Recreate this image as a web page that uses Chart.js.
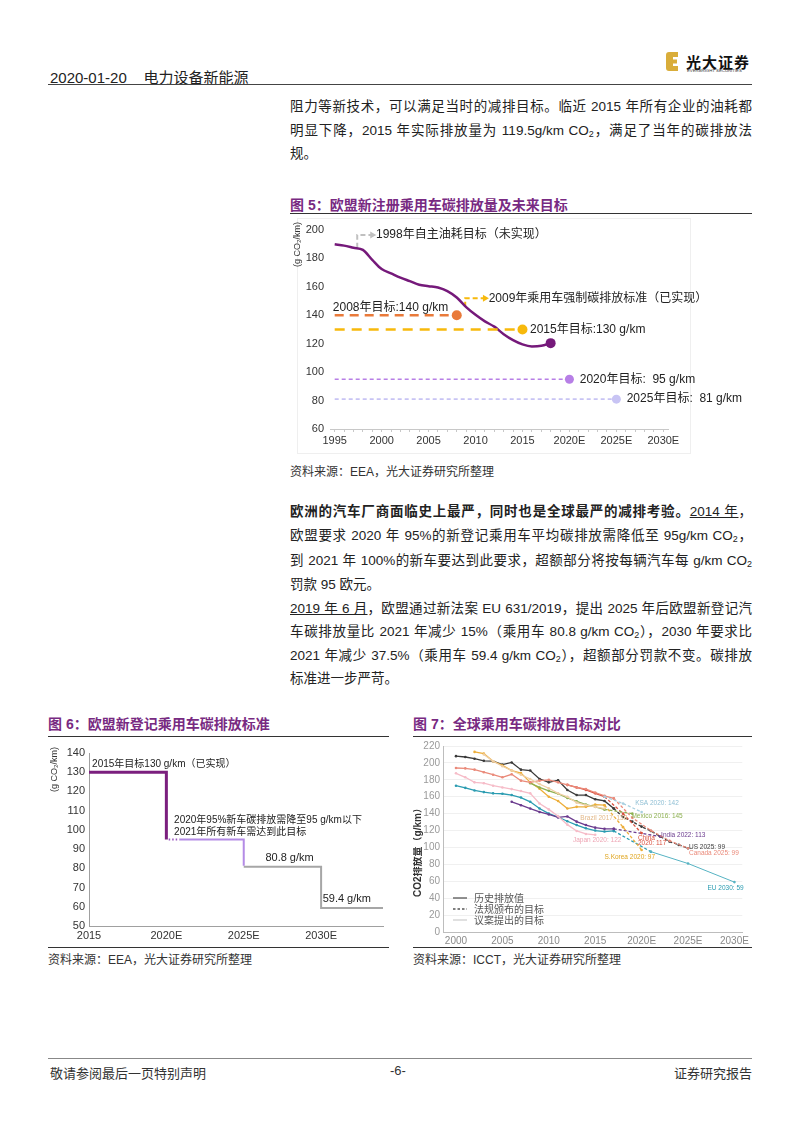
<!DOCTYPE html>
<html lang="zh-CN">
<head>
<meta charset="utf-8">
<title>电力设备新能源 - 欧盟乘用车碳排放</title>
<script src="https://cdn.jsdelivr.net/npm/chart.js@4.4.1/dist/chart.umd.min.js"></script>
<style>
  html, body { margin: 0; padding: 0; background: #fff; }
  body {
    width: 802px; height: 1133px; position: relative; overflow: hidden;
    font-family: "Liberation Sans", "Noto Sans CJK SC", sans-serif; color: #222;
  }
  .abs { position: absolute; white-space: nowrap; }
  .rule { position: absolute; height: 0; border-top: 1.5px solid #333; }
  .para { position: absolute; left: 290px; width: 462px; font-size: 13.5px; }
  .para div { text-align: justify; text-align-last: justify; }
  .para div.last { text-align-last: left; }
  .para sub { font-size: 9px; vertical-align: -2px; line-height: 0; }
  .figtitle { position: absolute; font-size: 14px; font-weight: bold; color: #782a82; }
  .source { position: absolute; font-size: 12px; color: #333; }
  .chartbox { position: absolute; }
</style>
</head>
<body>

<!-- header -->
<div class="abs" style="left:50px; top:66px; font-size:15px;">2020-01-20&nbsp;&nbsp;&nbsp;&nbsp;电力设备新能源</div>
<svg class="abs" style="left:666px; top:52px;" width="12" height="19" viewBox="0 0 12 19">
  <path d="M3 0 H12 V5 H7 V7.5 H11 V11.5 H7 V14 H12 V19 H3 Q0 19 0 16 V3 Q0 0 3 0 Z" fill="#d9ad3a"/>
</svg>
<div class="abs" style="left:686px; top:51px; font-size:15px; font-weight:bold; color:#111; letter-spacing:1px;">光大证券</div>
<div class="abs" style="left:687px; top:68px; font-size:4.3px; color:#333;">EVERBRIGHT SECURITIES</div>
<div class="rule" style="left:48px; width:704px; top:84px; border-top:1.5px solid #444;"></div>

<!-- paragraph 1 -->
<div class="para" style="top:95px; line-height:23.5px;">
  <div>阻力等新技术，可以满足当时的减排目标。临近 2015 年所有企业的油耗都</div>
  <div>明显下降，2015 年实际排放量为 119.5g/km CO<sub>2</sub>，满足了当年的碳排放法</div>
  <div class="last">规。</div>
</div>

<!-- figure 5 -->
<div class="figtitle" style="left:290px; top:194px;">图 5：欧盟新注册乘用车碳排放量及未来目标</div>
<div class="rule" style="left:290px; width:462px; top:213px;"></div>
<div class="abs" style="left:297px; top:218px; width:392px; height:234px; border:1px solid #efefef;"></div>
<div class="chartbox" style="left:290px; top:215px; width:462px; height:242px;"><canvas id="fig5"></canvas></div>
<div class="source" style="left:290px; top:462px;">资料来源：EEA，光大证券研究所整理</div>

<!-- paragraph 2 -->
<div class="para" style="top:500px; line-height:24.3px;">
  <div><b>欧洲的汽车厂商面临史上最严，同时也是全球最严的减排考验。</b><u>2014 年</u>，</div>
  <div>欧盟要求 2020 年 95%的新登记乘用车平均碳排放需降低至 95g/km CO<sub>2</sub>，</div>
  <div>到 2021 年 100%的新车要达到此要求，超额部分将按每辆汽车每 g/km CO<sub>2</sub></div>
  <div class="last">罚款 95 欧元。</div>
</div>

<!-- paragraph 3 -->
<div class="para" style="top:597px; line-height:23.4px;">
  <div><u>2019 年 6 月</u>，欧盟通过新法案 EU 631/2019，提出 2025 年后欧盟新登记汽</div>
  <div>车碳排放量比 2021 年减少 15%（乘用车 80.8 g/km CO<sub>2</sub>），2030 年要求比</div>
  <div>2021 年减少 37.5%（乘用车 59.4 g/km CO<sub>2</sub>），超额部分罚款不变。碳排放</div>
  <div class="last">标准进一步严苛。</div>
</div>

<!-- figure 6 -->
<div class="figtitle" style="left:48px; top:713px;">图 6：欧盟新登记乘用车碳排放标准</div>
<div class="rule" style="left:48px; width:341px; top:736px;"></div>
<div class="chartbox" style="left:48px; top:740px; width:340px; height:206px;"><canvas id="fig6"></canvas></div>
<div class="rule" style="left:48px; width:341px; top:947px;"></div>
<div class="source" style="left:48px; top:950px;">资料来源：EEA，光大证券研究所整理</div>

<!-- figure 7 -->
<div class="figtitle" style="left:413px; top:713px;">图 7：全球乘用车碳排放目标对比</div>
<div class="rule" style="left:413px; width:339px; top:736px;"></div>
<div class="chartbox" style="left:413px; top:737px; width:339px; height:209px;"><canvas id="fig7"></canvas></div>
<div class="rule" style="left:413px; width:339px; top:947px;"></div>
<div class="source" style="left:413px; top:950px;">资料来源：ICCT，光大证券研究所整理</div>

<!-- footer -->
<div class="rule" style="left:48px; width:704px; top:1058px; border-top:1px solid #888;"></div>
<div class="abs" style="left:50px; top:1063px; font-size:13px; color:#333;">敬请参阅最后一页特别声明</div>
<div class="abs" style="left:390px; top:1063px; font-size:13px; color:#333;">-6-</div>
<div class="abs" style="right:50px; top:1063px; font-size:13px; color:#333;">证券研究报告</div>

<script>
// ---------- figure 5 data ----------
const fig5Years = [1995, 1996, 1997, 1998, 1999, 2000, 2001, 2002, 2003, 2004, 2005, 2006,
                   2007, 2008, 2009, 2010, 2011, 2012, 2013, 2014, 2015, 2016, 2017, 2018];
const fig5Actual = [190, 189, 187.5, 186, 179, 172.5, 169.5, 166.5, 164, 161.5, 160.5, 159.5,
                    157, 152.5, 145.7, 140.3, 135.7, 132, 126.7, 122.5, 119.5, 118.1, 118.5, 120.4];
const fig5TargetStart = 1995;
const fig5TargetYears = [2008, 2015, 2020, 2025];
const fig5TargetValues = [140, 130, 95, 81];
const fig5TargetLabels = ['2008年目标:140 g/km', '2015年目标:130 g/km', '2020年目标:  95 g/km', '2025年目标:  81 g/km'];

// ---------- figure 6 data ----------
const fig6Years = [2015, 2020, 2025, 2030];
const fig6Values = [130, 95, 80.8, 59.4];
const fig6End = 2034;

// ---------- figure 7 data (ICCT) ----------
const histYears = [2000, 2001, 2002, 2003, 2004, 2005, 2006, 2007, 2008, 2009,
                   2010, 2011, 2012, 2013, 2014, 2015, 2016, 2017];
const usHist = [208, 207, 205, 202.5, 202, 198, 200.5, 192, 191, 181, 177, 179.5, 168, 162, 162, 157, 155, 146];
const euHist = [173, 170.5, 167.4, 165.5, 164, 163.5, 162, 159, 154, 146, 140, 136, 131, 126.5, 122.7, 120, 118.8, 119.5];
const canadaHist = [194, 193.5, 192, 189, 186, 183, 186.5, 179, 177, 179, 180, 177, 174, 171, 169, 165, 161, 158];
const japanYears = [2000, 2001, 2002, 2003, 2004, 2005, 2006, 2007, 2008, 2009, 2010, 2011, 2012, 2013, 2014, 2015];
const japanHist = [187.7, 183, 177, 176, 173, 171, 169, 166.7, 164, 152, 145, 137, 127, 119.5, 116, 115];
const koreaYears = [2002, 2003, 2004, 2005, 2006, 2007, 2008, 2009, 2010, 2011, 2012, 2013, 2014, 2015, 2016];
const koreaHist = [213, 211, 202, 197, 191, 188, 177, 169.5, 160, 155, 146, 148, 148, 150.7, 150];
const brazilYears = [2003, 2004, 2005, 2006, 2007, 2008, 2009, 2010, 2011, 2012, 2013, 2014, 2015, 2016];
const brazilHist = [210, 202, 196, 191, 186, 181, 175, 170, 164, 160, 153, 150, 148, 146];
const mexicoYears = [2008, 2009, 2010, 2011, 2012, 2013, 2014, 2015, 2016];
const mexicoHist = [176, 171, 167, 163.5, 158.5, 154.6, 150.7, 148, 145];
const indiaYears = [2006, 2007, 2008, 2009, 2010, 2011, 2012, 2013, 2014, 2015, 2016, 2017];
const indiaHist = [154, 150, 146, 142, 139, 135.5, 136.7, 130.5, 126.5, 123.4, 122, 122];
const chinaYears = [2012, 2013, 2014, 2015, 2016];
const chinaHist = [174, 171, 168, 164, 160];

const usTgtYears = [2017, 2018, 2019, 2020, 2021, 2022, 2023, 2024, 2025];
const usTgt = [146, 136, 130.5, 124.6, 119.5, 113, 107, 103, 99];
const canadaTgtYears = [2017, 2019, 2021, 2023, 2025];
const canadaTgt = [158, 135, 120, 108, 99];
const euTgtYears = [2017, 2021];
const euTgt = [119.5, 95];
const euPropYears = [2021, 2025, 2030];
const euProp = [95, 81, 59];
const chinaTgtYears = [2016, 2018, 2020];
const chinaTgt = [160, 140, 117];
const koreaTgtYears = [2016, 2018, 2020];
const koreaTgt = [150, 124, 97];
const indiaTgtYears = [2017, 2022];
const indiaTgt = [122, 113];
const mexicoTgtYears = [2016, 2019];
const mexicoTgt = [145, 140];
const ksaTgtYears = [2016, 2018, 2020];
const ksaTgt = [160, 152, 142];
const fig7XTicks = [2000, 2005, 2010, 2015, 2020, 2025, 2030];

Chart.defaults.font.family = '"Liberation Sans", "Noto Sans CJK SC", sans-serif';
Chart.defaults.animation = false;
Chart.defaults.plugins.legend.display = false;
Chart.defaults.plugins.tooltip.enabled = false;

const pts = (xs, ys) => xs.map((x, i) => ({ x: x, y: ys[i] }));
const yearLabel = v => (v >= 2020 ? v + 'E' : String(v));

// draws free text at data coordinates plus a rotated axis title
const textPlugin = {
  id: 'texts',
  afterDatasetsDraw(chart, args, opts) {
    const { ctx, scales: { x, y } } = chart;
    (opts.items || []).forEach(it => {
      ctx.save();
      ctx.font = it.font;
      ctx.fillStyle = it.color || '#222';
      ctx.textAlign = it.align || 'left';
      ctx.textBaseline = 'middle';
      ctx.fillText(it.text, x.getPixelForValue(it.x), y.getPixelForValue(it.y));
      ctx.restore();
    });
    const t = opts.yTitle;
    if (t) {
      ctx.save();
      ctx.translate(t.px, t.py);
      ctx.rotate(-Math.PI / 2);
      ctx.font = t.font;
      ctx.fillStyle = t.color || '#333';
      ctx.textAlign = t.align;
      ctx.textBaseline = 'middle';
      ctx.fillText(t.text, 0, 0);
      ctx.restore();
    }
    if (opts.legend) {
      const ca = chart.chartArea;
      opts.legend.forEach((l, i) => {
        const yy = ca.top + 152 + i * 11;
        ctx.save();
        ctx.strokeStyle = l.color;
        ctx.lineWidth = 1.3;
        ctx.setLineDash(l.dash || []);
        ctx.beginPath();
        ctx.moveTo(ca.left + 10, yy);
        ctx.lineTo(ca.left + 24, yy);
        ctx.stroke();
        ctx.setLineDash([]);
        ctx.font = '10px "Noto Sans CJK SC"';
        ctx.fillStyle = '#555';
        ctx.textBaseline = 'middle';
        ctx.fillText(l.text, ca.left + 31, yy);
        ctx.restore();
      });
    }
  }
};

// ---------- figure 5 ----------
const f5Colors = ['#e97a3a', '#f7b90c', '#b77fe6', '#c8c4f4'];
const f5Dash = [[9, 6], [10, 7], [4, 3], [4, 3]];
const f5Width = [2.5, 2.5, 1.6, 1.6];
const f5Datasets = [];
fig5TargetYears.forEach((yr, i) => {
  f5Datasets.push({
    data: pts([fig5TargetStart, yr], [fig5TargetValues[i], fig5TargetValues[i]]),
    borderColor: f5Colors[i], backgroundColor: f5Colors[i],
    borderWidth: f5Width[i], borderDash: f5Dash[i],
    pointRadius: [0, i < 2 ? 5 : 4.5], pointBorderWidth: 0
  });
});
f5Datasets.push({
  data: pts(fig5Years, fig5Actual),
  borderColor: '#75197a', backgroundColor: '#75197a', borderWidth: 2.5,
  cubicInterpolationMode: 'monotone',
  pointRadius: ctx => (ctx.dataIndex === fig5Years.length - 1 ? 5 : 0), pointBorderWidth: 0
});
// elbow arrows pointing at the notes
f5Datasets.push({
  data: [{ x: 1997.4, y: 187.5 }, { x: 1997.4, y: 196.5 }, { x: 1999, y: 196.5 }],
  borderColor: '#c0c0c0', backgroundColor: '#c0c0c0', borderWidth: 2, borderDash: [5, 3],
  pointStyle: 'triangle', rotation: 90, pointRadius: [0, 0, 4], pointBorderWidth: 0
});
f5Datasets.push({
  data: [{ x: 2008.9, y: 146 }, { x: 2008.9, y: 152 }, { x: 2011, y: 152 }],
  borderColor: '#f7b90c', backgroundColor: '#f7b90c', borderWidth: 2, borderDash: [5, 3],
  pointStyle: 'triangle', rotation: 90, pointRadius: [0, 0, 4], pointBorderWidth: 0
});

const f5Font = '12px "Liberation Sans", "Noto Sans CJK SC"';
new Chart(document.getElementById('fig5'), {
  type: 'line',
  data: { datasets: f5Datasets },
  plugins: [textPlugin],
  options: {
    responsive: true, maintainAspectRatio: false,
    layout: { padding: { left: 0, right: 84, top: 15, bottom: 0 } },
    scales: {
      x: {
        type: 'linear', min: 1994.5, max: 2030.5,
        afterBuildTicks: s => { const t = []; for (let v = 1995; v <= 2030; v++) t.push({ value: v }); s.ticks = t; },
        afterFit: s => { s.height = 28; },
        ticks: { autoSkip: false, maxRotation: 0, padding: 2, color: '#333', font: { size: 11 },
                 callback: v => (v % 5 === 0 ? yearLabel(v) : '') },
        grid: { drawOnChartArea: false, tickLength: 3, color: '#c8c8c8' },
        border: { color: '#c8c8c8' }
      },
      y: {
        min: 60, max: 200,
        afterFit: s => { s.width = 40; },
        ticks: { stepSize: 20, color: '#333', font: { size: 11 }, padding: 6 },
        grid: { display: false, drawTicks: false }, border: { display: false }
      }
    },
    plugins: {
      texts: {
        items: [
          { x: 1999.4, y: 196.5, text: '1998年自主油耗目标（未实现）', font: f5Font },
          { x: 2011.4, y: 152, text: '2009年乘用车强制碳排放标准（已实现）', font: f5Font },
          { x: 1994.8, y: 145.5, text: fig5TargetLabels[0], font: f5Font },
          { x: 2015.8, y: 130, text: fig5TargetLabels[1], font: f5Font },
          { x: 2021.1, y: 95, text: fig5TargetLabels[2], font: f5Font },
          { x: 2026.1, y: 81, text: fig5TargetLabels[3], font: f5Font }
        ],
        yTitle: { px: 8, py: 7, text: '(g CO₂/km)', font: '9px "Liberation Sans"', align: 'right' }
      }
    }
  }
});

// ---------- figure 6 ----------
const f6Font = '10px "Liberation Sans", "Noto Sans CJK SC"';
new Chart(document.getElementById('fig6'), {
  type: 'line',
  data: {
    datasets: [
      { data: pts([fig6Years[0], fig6Years[1], fig6Years[1]], [fig6Values[0], fig6Values[0], fig6Values[1]]),
        borderColor: '#7b1f7e', borderWidth: 3, pointRadius: 0 },
      { data: pts([fig6Years[1] + 0.15, fig6Years[1] + 0.85], [fig6Values[1], fig6Values[1]]),
        borderColor: '#9b59c0', borderWidth: 2, borderDash: [1.5, 2], pointRadius: 0 },
      { data: pts([fig6Years[1] + 0.85, fig6Years[2], fig6Years[2]], [fig6Values[1], fig6Values[1], fig6Values[2] + 0.5]),
        borderColor: '#b48be6', borderWidth: 2, pointRadius: 0 },
      { data: pts([fig6Years[2], fig6Years[3], fig6Years[3], fig6End], [fig6Values[2], fig6Values[2], fig6Values[3], fig6Values[3]]),
        borderColor: '#a6a6a6', borderWidth: 2, pointRadius: 0 }
    ]
  },
  plugins: [textPlugin],
  options: {
    responsive: true, maintainAspectRatio: false,
    layout: { padding: { left: 0, right: 5, top: 13, bottom: 0 } },
    scales: {
      x: {
        type: 'linear', min: 2015, max: fig6End,
        afterBuildTicks: s => { s.ticks = fig6Years.map(v => ({ value: v })); },
        afterFit: s => { s.height = 20; },
        ticks: { autoSkip: false, maxRotation: 0, padding: 3, color: '#333', font: { size: 11 }, callback: yearLabel },
        grid: { display: false, drawTicks: false }, border: { color: '#a0a0a0' }
      },
      y: {
        min: 50, max: 140,
        afterFit: s => { s.width = 41; },
        ticks: { stepSize: 10, color: '#333', font: { size: 11 }, padding: 4 },
        grid: { display: false, drawTicks: false }, border: { color: '#a0a0a0' }
      }
    },
    plugins: {
      texts: {
        items: [
          { x: 2015.2, y: 134.3, text: '2015年目标130 g/km（已实现）', font: f6Font },
          { x: 2020.5, y: 105, text: '2020年95%新车碳排放需降至95 g/km以下', font: f6Font },
          { x: 2020.5, y: 98.8, text: '2021年所有新车需达到此目标', font: f6Font },
          { x: 2026.4, y: 85.5, text: '80.8 g/km', font: '11px "Liberation Sans"' },
          { x: 2030.1, y: 64, text: '59.4 g/km', font: '11px "Liberation Sans"' }
        ],
        yTitle: { px: 7, py: 7, text: '(g CO₂/km)', font: '9px "Liberation Sans"', align: 'right' }
      }
    }
  }
});

// ---------- figure 7 ----------
function ser(xs, ys, color, extra) {
  return Object.assign({
    data: pts(xs, ys), borderColor: color, backgroundColor: color,
    borderWidth: 1.3, pointRadius: 1.3, pointBorderWidth: 0
  }, extra || {});
}
const dash = { borderDash: [3, 2] };
const c7 = {
  us: '#3a3a3a', eu: '#2b9cb1', canada: '#ea8a7a', china: '#d9503f', japan: '#f6bcc8',
  korea: '#edae3a', brazil: '#efcfa6', mexico: '#8db050', india: '#6b3b8e', ksa: '#a8cfe0'
};
const f7Label = '6.5px "Liberation Sans"';
new Chart(document.getElementById('fig7'), {
  type: 'line',
  data: {
    datasets: [
      ser(ksaTgtYears, ksaTgt, c7.ksa, dash),
      ser(japanYears, japanHist, c7.japan),
      ser(brazilYears, brazilHist, c7.brazil),
      ser(histYears, canadaHist, c7.canada),
      ser(canadaTgtYears, canadaTgt, c7.canada, dash),
      ser(mexicoYears, mexicoHist, c7.mexico),
      ser(mexicoTgtYears, mexicoTgt, c7.mexico, dash),
      ser(chinaYears, chinaHist, c7.china),
      ser(chinaTgtYears, chinaTgt, c7.china, dash),
      ser(koreaYears, koreaHist, c7.korea),
      ser(koreaTgtYears, koreaTgt, c7.korea, dash),
      ser(indiaYears, indiaHist, c7.india),
      ser(indiaTgtYears, indiaTgt, c7.india, dash),
      ser(euPropYears, euProp, '#56b3c3', { borderWidth: 1 }),
      ser(euTgtYears, euTgt, c7.eu, dash),
      ser(histYears, euHist, c7.eu),
      ser(usTgtYears, usTgt, c7.us, dash),
      ser(histYears, usHist, c7.us)
    ]
  },
  plugins: [textPlugin],
  options: {
    responsive: true, maintainAspectRatio: false,
    layout: { padding: { left: 0, right: 4, top: 6, bottom: 0 } },
    scales: {
      x: {
        type: 'linear', min: 1998.6, max: 2030.85,
        afterBuildTicks: s => { s.ticks = fig7XTicks.map(v => ({ value: v })); },
        afterFit: s => { s.height = 14; },
        ticks: { autoSkip: false, maxRotation: 0, padding: 3, color: '#8a8a8a', font: { size: 10 }, callback: yearLabel },
        grid: { display: false, drawTicks: false }, border: { color: '#bdbdbd' }
      },
      y: {
        min: 0, max: 220,
        afterFit: s => { s.width = 30; },
        ticks: { stepSize: 20, color: '#9a9a9a', font: { size: 10 }, padding: 3 },
        grid: { color: '#f0f0f0', drawTicks: false }, border: { color: '#bdbdbd' }
      }
    },
    plugins: {
      texts: {
        items: [
          { x: 2019.3, y: 152.5, text: 'KSA 2020: 142', font: f7Label, color: '#8fbfd4' },
          { x: 2018.9, y: 137.4, text: 'Mexico 2016: 145', font: f7Label, color: c7.mexico },
          { x: 2013.4, y: 135, text: 'Brazil 2017: 138', font: f7Label, color: '#e3b98a' },
          { x: 2022.1, y: 114, text: 'India 2022: 113', font: f7Label, color: c7.india },
          { x: 2019.6, y: 110.5, text: 'China', font: f7Label, color: c7.china },
          { x: 2019.6, y: 105.5, text: '2020: 117', font: f7Label, color: c7.china },
          { x: 2012.6, y: 108, text: 'Japan 2020: 122', font: f7Label, color: '#eea5b4' },
          { x: 2025.1, y: 100, text: 'US 2025: 99', font: f7Label, color: c7.us },
          { x: 2025.1, y: 93, text: 'Canada 2025: 99', font: f7Label, color: c7.canada },
          { x: 2016, y: 88.5, text: 'S.Korea 2020: 97', font: f7Label, color: '#e0a51e' },
          { x: 2027.1, y: 52, text: 'EU 2030: 59', font: f7Label, color: c7.eu }
        ],
        yTitle: { px: 5, py: 113, text: 'CO2排放量（g/km）', font: 'bold 10px "Liberation Sans", "Noto Sans CJK SC"', align: 'center' },
        legend: [
          { text: '历史排放值', color: '#555' },
          { text: '法规颁布的目标', color: '#555', dash: [2.5, 2] },
          { text: '议案提出的目标', color: '#cfcfcf' }
        ]
      }
    }
  }
});
</script>
</body>
</html>
